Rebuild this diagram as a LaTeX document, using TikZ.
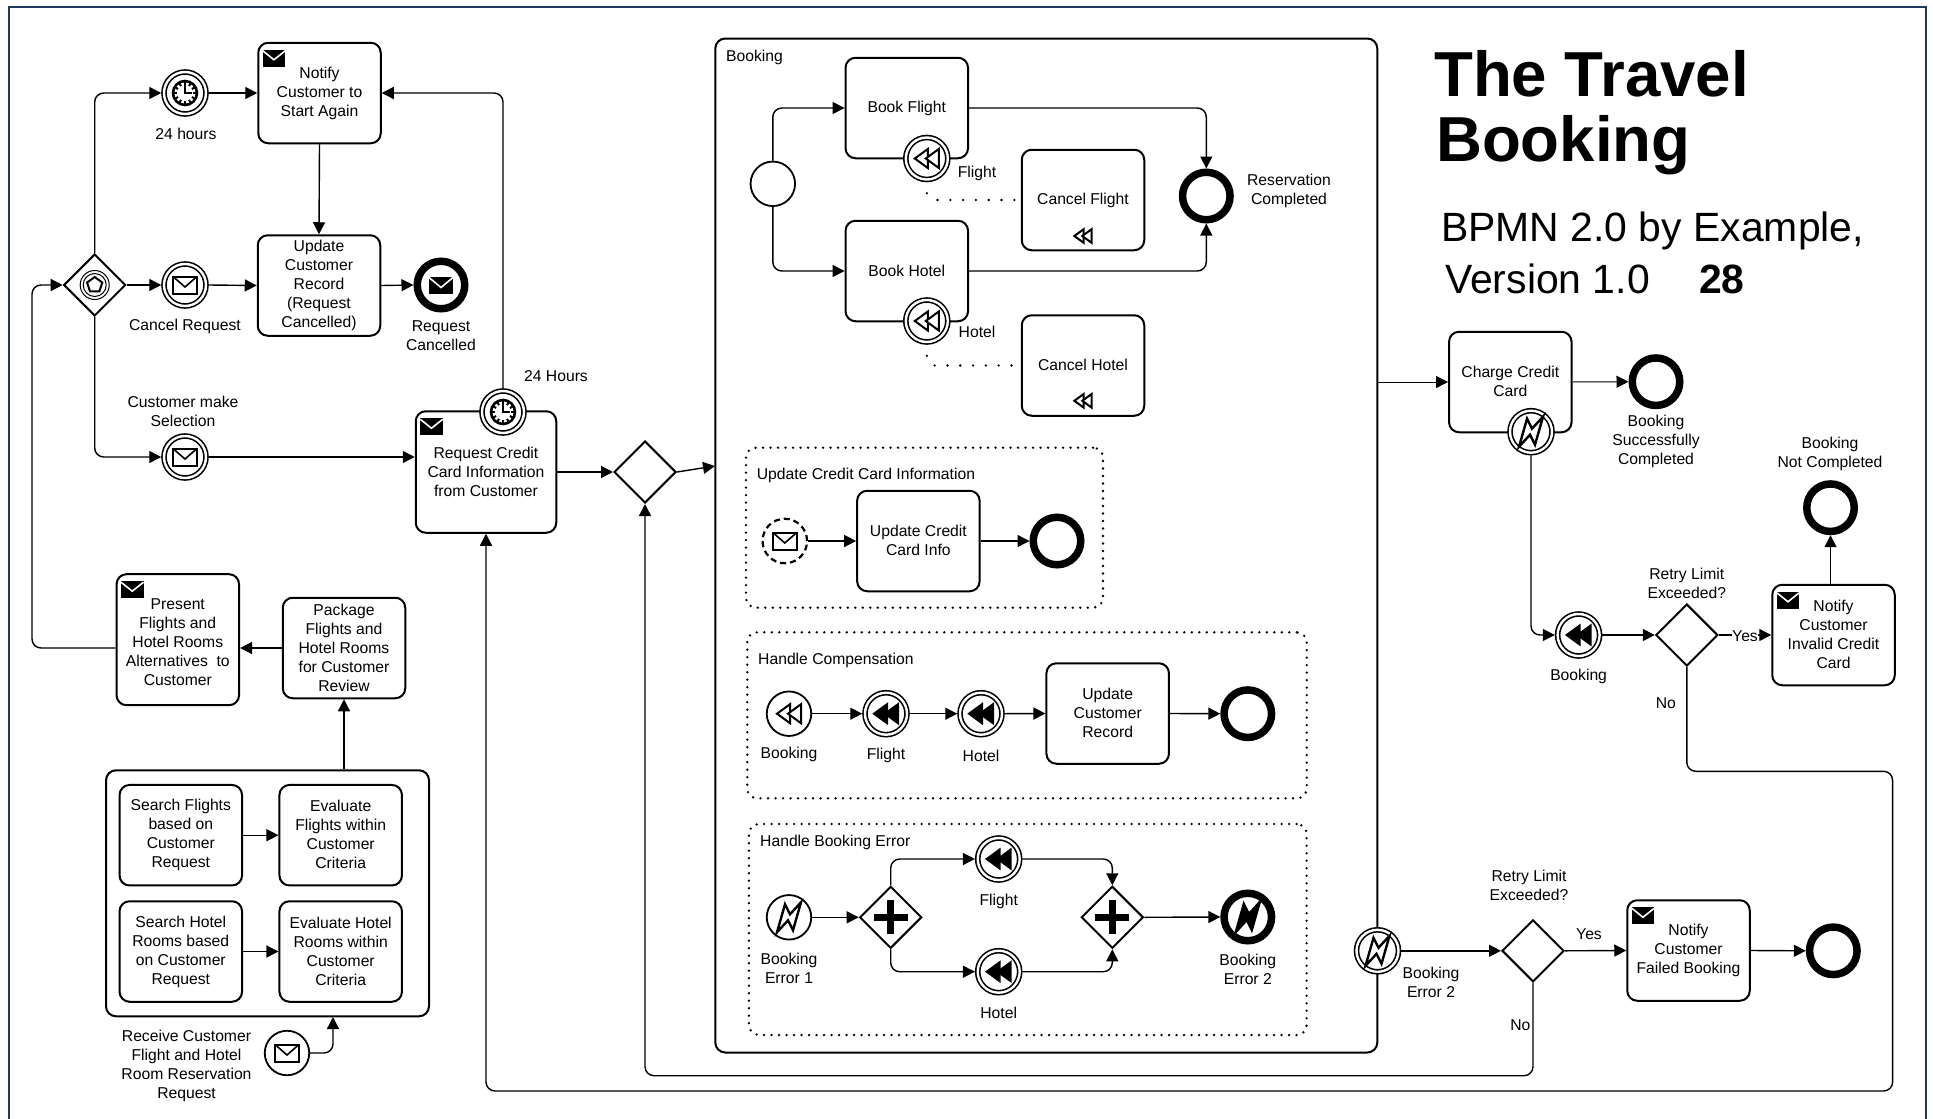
\documentclass[tikz,border=0pt]{standalone}
\usepackage{fontspec}
\setmainfont{Liberation Sans}
\usetikzlibrary{shapes.geometric,arrows.meta}

\definecolor{framecolor}{HTML}{1F3A5C}
\newcommand{\tasksize}{\fontsize{15.7}{19}\selectfont}

\tikzset{
  task/.style={draw, fill=white, rounded corners=10pt, line width=2pt, align=center, inner sep=0pt,
    minimum width=122.5pt, minimum height=100.5pt, font=\tasksize,
    execute at begin node=\rule{0pt}{11.4pt}, execute at end node=\rule[-1pt]{0pt}{1pt}},
  lbl/.style={align=center, inner sep=0pt, font=\tasksize, yshift=-1.5pt},
  gate/.style={diamond, aspect=1, draw, fill=white, line width=2pt, inner sep=0pt, minimum size=62pt},
  startev/.style={circle, draw, fill=white, line width=1.8pt, inner sep=0pt, minimum size=44.5pt},
  interev/.style={circle, draw, fill=white, double=white, line width=1.6pt, double distance=2.4pt,
    inner sep=0pt, minimum size=42pt, outer sep=2.75pt},
  endev/.style={circle, draw, fill=white, line width=7.5pt, inner sep=0pt, minimum size=47.5pt},
  dotbox/.style={draw, rounded corners=10pt, line width=2.6pt, line cap=round, dash pattern=on 0pt off 7.5pt,
    inner sep=0pt},
  flow/.style={-{Triangle[length=12pt,width=12pt]}, line width=1.4pt, rounded corners=9pt},
  assoc/.style={line width=2.6pt, line cap=round, dash pattern=on 0pt off 12.8pt}
}

% Task and event markers
\newcommand{\sendmark}[1]{
  \begin{scope}[shift={(#1.north west)}]
    \fill[black] (5.5,8) rectangle (28,25);
    \draw[white, line width=1.6pt] (5.5,9) -- (16.7,18) -- (28,9);
  \end{scope}
}
\newcommand{\openmail}[1]{
  \begin{scope}[shift={(#1.center)}]
    \draw[line width=2pt] (-12,-8.5) rectangle (12,8.5);
    \draw[line width=1.6pt] (-12,-8.5) -- (0,2) -- (12,-8.5);
  \end{scope}
}
\newcommand{\fullmail}[1]{
  \begin{scope}[shift={(#1.center)}]
    \fill[black] (-12,-8.5) rectangle (12,8.5);
    \draw[white, line width=1.6pt] (-12,-7.5) -- (0,2.5) -- (12,-7.5);
  \end{scope}
}
\newcommand{\clockmark}[1]{
  \begin{scope}[shift={(#1.center)}]
    \draw[line width=2.6pt] (0,0) circle (12);
    \foreach \ang in {0,30,...,330}
      \draw[line width=2pt] (\ang:8) -- (\ang:12);
    \draw[line width=2pt] (0,-8) -- (0,0) -- (6.5,0);
  \end{scope}
}
% #1 node, #2 scale, #3 fill colour
\newcommand{\rewindmark}[3]{
  \begin{scope}[shift={(#1.center)}, scale=#2]
    \draw[fill=#3, line width=2pt, line join=miter] (-12,0) -- (1,-9.5) -- (1,9.5) -- cycle;
    \draw[fill=#3, line width=2pt, line join=miter] (-1,0) -- (12,-9.5) -- (12,9.5) -- cycle;
  \end{scope}
}
\newcommand{\boltmark}[2]{
  \begin{scope}[shift={(#1.center)}]
    \draw[fill=#2, line width=2.4pt, line join=miter] (-12,15) -- (-4,-13) -- (1,-3) -- (12,-15) -- (4,13) -- (-1,3) -- cycle;
  \end{scope}
}
\newcommand{\plusmark}[1]{
  \begin{scope}[shift={(#1.center)}]
    \fill[black] (-17,-3.5) rectangle (17,3.5);
    \fill[black] (-3.5,-17) rectangle (3.5,17);
  \end{scope}
}

\begin{document}
\begin{tikzpicture}[x=1pt, y=-1pt]
  \useasboundingbox (0,0) rectangle (1933,1119);
  \clip (0,0) rectangle (1933,1119);
  \draw[framecolor, line width=2.5pt] (9,7) rectangle (1926,1130);

  % Title
  \node[anchor=base west, inner sep=0pt, font=\fontsize{63.6}{66}\selectfont\bfseries] (titleone) at (1434,96) {The Travel};
  \node[anchor=base west, inner sep=0pt, font=\fontsize{63.6}{66}\selectfont\bfseries] (titletwo) at (1436,161.7) {Booking};
  \node[anchor=base west, inner sep=0pt, font=\fontsize{40.9}{44}\selectfont] (subone) at (1441,241.7) {BPMN 2.0 by Example,};
  \node[anchor=base west, inner sep=0pt, font=\fontsize{40.9}{44}\selectfont] (subtwo) at (1445,293) {Version 1.0};
  \node[anchor=base west, inner sep=0pt, font=\fontsize{40.9}{44}\selectfont\bfseries] (pagenum) at (1699,293) {28};

  % Customer loop (upper left)
  \node[gate] (evgate) at (94.7,285) {};
  \draw[line width=1pt] (evgate) circle (14.5) (evgate) circle (11.5);
  \draw[line width=2pt, line join=miter] (evgate.center) ++(0,-8) -- ++(7.6,5.5) -- ++(-2.9,8.9) -- ++(-9.4,0) -- ++(-2.9,-8.9) -- cycle;

  \node[interev] (timerday) at (185,93) {};
  \clockmark{timerday}
  \node[lbl] (timerdaylbl) at (186,132.5) {24 hours};
  \node[interev] (cancelev) at (185,285) {};
  \openmail{cancelev}
  \node[lbl] (cancellbl) at (185,325) {Cancel Request};
  \node[interev] (selectev) at (185,457) {};
  \openmail{selectev}
  \node[lbl] (selectlbl) at (183,409.5) {Customer make\\Selection};

  \node[task] (notifyagain) at (319.5,93) {Notify\\Customer to\\Start Again};
  \sendmark{notifyagain}
  \node[task] (updaterec) at (319,285.5) {Update\\Customer\\Record\\(Request\\Cancelled)};
  \node[endev] (endcancel) at (441,285) {};
  \fullmail{endcancel}
  \node[lbl] (endcancellbl) at (441,334.5) {Request\\Cancelled};

  \node[task, minimum width=140.5pt, minimum height=121.5pt] (request) at (486,472) {Request Credit\\Card Information\\from Customer};
  \sendmark{request}
  \node[interev] (timerreq) at (503,412) {};
  \clockmark{timerreq}
  \node[lbl] (timerreqlbl) at (556,375) {24 Hours};
  \node[gate] (gwmain) at (645,472) {};

  \draw[flow] (evgate.north) |- (timerday.west);
  \draw[flow] (timerday.east) -- (notifyagain.west);
  \draw[flow] (evgate.east) -- (cancelev.west);
  \draw[flow] (cancelev.east) -- (updaterec.west);
  \draw[flow] (updaterec.east) -- (endcancel.west);
  \draw[flow] (notifyagain.south) -- (updaterec.north);
  \draw[flow] (evgate.south) |- (selectev.west);
  \draw[flow] (selectev.east) -- (selectev.east -| request.west);
  \draw[flow] (timerreq.north) |- (notifyagain.east);
  \draw[flow] (request.east) -- (gwmain.west);

  % Search tasks (lower left)
  \node[task, minimum width=323pt, minimum height=246pt] (searchgroup) at (267.5,893.3) {};
  \node[task] (searchfl) at (180.8,835.2) {Search Flights\\based on\\Customer\\Request};
  \node[task] (evalfl) at (340.7,835.2) {Evaluate\\Flights within\\Customer\\Criteria};
  \node[task] (searchho) at (180.8,951.5) {Search Hotel\\Rooms based\\on Customer\\Request};
  \node[task] (evalho) at (340.7,951.5) {Evaluate Hotel\\Rooms within\\Customer\\Criteria};
  \node[task] (package) at (344,648) {Package\\Flights and\\Hotel Rooms\\for Customer\\Review};
  \node[task, minimum height=131pt] (present) at (177.8,639.7) {\rule{0pt}{17.4pt}Present\\Flights and\\Hotel Rooms\\Alternatives~ to\\Customer};
  \sendmark{present}
  \node[startev] (receive) at (287,1053) {};
  \openmail{receive}
  \node[lbl] (receivelbl) at (186.5,1064.5) {Receive Customer\\Flight and Hotel\\Room Reservation\\Request};
  \coordinate (evgateleft) at (32,285);

  \draw[flow] (searchfl.east) -- (evalfl.west);
  \draw[flow] (searchho.east) -- (evalho.west);
  \draw[flow] (package.south |- searchgroup.north) -- (package.south);
  \draw[flow] (package.west) -- (package.west -| present.east);
  \draw[flow] (package.west -| present.west) -| (evgateleft) -- (evgate.west);
  \draw[flow] (receive.east) -| (333,1017);

  % Booking subprocess
  \node[task, minimum width=662pt, minimum height=1014pt] (booking) at (1046.3,545.5) {};
  \node[lbl, anchor=west] (bookinglbl) at (726,56) {Booking};
  \node[startev] (bookstart) at (772.8,183.8) {};
  \node[task] (bookfl) at (906.8,108) {Book Flight};
  \node[task] (bookho) at (906.8,271) {Book Hotel};
  \node[task] (cancelfl) at (1083,200) {Cancel Flight};
  \node[task] (cancelho) at (1083,365.5) {Cancel Hotel};
  \coordinate (rewfl) at (1083,236);
  \coordinate (rewho) at (1083,400.8);
  \rewindmark{rewfl}{0.72}{white}
  \rewindmark{rewho}{0.72}{white}
  \node[interev] (compfl) at (926.8,158.5) {};
  \rewindmark{compfl}{1}{white}
  \node[lbl] (compfllbl) at (977,172) {Flight};
  \node[interev] (compho) at (926.8,321) {};
  \rewindmark{compho}{1}{white}
  \node[lbl] (comphololbl) at (977,330.5) {Hotel};
  \node[endev] (endres) at (1206.3,196) {};
  \node[lbl] (endreslbl) at (1289,189) {Reservation\\Completed};

  \draw[flow] (bookstart.north) |- (bookfl.west);
  \draw[flow] (bookstart.south) |- (bookho.west);
  \draw[flow] (bookfl.east) -| (endres.north);
  \draw[flow] (bookho.east) -| (endres.south);
  \draw[assoc] (compfl.south) ++(0,11) -- (936.6,200) -- (cancelfl.west);
  \draw[assoc] (compho.south) ++(0,11) -- (934,365.5) -- (cancelho.west);

  % Update Credit Card Information
  \node[dotbox, minimum width=357pt, minimum height=160pt] (updbox) at (924.5,527.7) {};
  \node[lbl, anchor=west] (updboxlbl) at (756.7,474) {Update Credit Card Information};
  \node[startev, line width=2.2pt, dash pattern=on 6pt off 4pt] (updstart) at (784.8,541) {};
  \openmail{updstart}
  \node[task] (updcard) at (918.4,541) {Update Credit\\Card Info};
  \node[endev] (updend) at (1057,541) {};
  \draw[flow] (updstart.east) -- (updcard.west);
  \draw[flow] (updcard.east) -- (updend.west);

  % Handle Compensation
  \node[dotbox, minimum width=559.5pt, minimum height=166pt] (compbox) at (1027,715.3) {};
  \node[lbl, anchor=west] (compboxlbl) at (758,658.7) {Handle Compensation};
  \node[startev] (hcbook) at (789,713.7) {};
  \rewindmark{hcbook}{1}{white}
  \node[lbl] (hcbooklbl) at (789,752.7) {Booking};
  \node[interev] (hcfl) at (886,713.7) {};
  \rewindmark{hcfl}{1}{black}
  \node[lbl] (hcfllbl) at (886,754) {Flight};
  \node[interev] (hcho) at (981,713.7) {};
  \rewindmark{hcho}{1}{black}
  \node[lbl] (hchololbl) at (981,754) {Hotel};
  \node[task] (hcupd) at (1107.7,713.5) {Update\\Customer\\Record};
  \node[endev] (hcend) at (1247.8,713.7) {};
  \draw[flow] (hcbook.east) -- (hcfl.west);
  \draw[flow] (hcfl.east) -- (hcho.west);
  \draw[flow] (hcho.east) -- (hcupd.west);
  \draw[flow] (hcupd.east) -- (hcend.west);

  % Handle Booking Error
  \node[dotbox, minimum width=557.7pt, minimum height=211pt] (errbox) at (1027.8,929.5) {};
  \node[lbl, anchor=west] (errboxlbl) at (760,841) {Handle Booking Error};
  \node[startev] (errstart) at (789,917.3) {};
  \boltmark{errstart}{white}
  \node[lbl] (errstartlbl) at (789,966.5) {Booking\\Error 1};
  \node[gate] (parone) at (890.7,917.3) {};
  \plusmark{parone}
  \node[interev] (errfl) at (998.7,859) {};
  \rewindmark{errfl}{1}{black}
  \node[lbl] (errfllbl) at (998.7,900) {Flight};
  \node[interev] (errho) at (998.7,971.7) {};
  \rewindmark{errho}{1}{black}
  \node[lbl] (errhololbl) at (998.7,1011.7) {Hotel};
  \node[gate] (partwo) at (1112.3,917.3) {};
  \plusmark{partwo}
  \node[endev] (errend) at (1247.8,917) {};
  \boltmark{errend}{black}
  \node[lbl] (errendlbl) at (1247.8,967.5) {Booking\\Error 2};
  \draw[flow] (errstart.east) -- (parone.west);
  \draw[flow] (parone.north) |- (errfl.west);
  \draw[flow] (parone.south) |- (errho.west);
  \draw[flow] (errfl.east) -| (partwo.north);
  \draw[flow] (errho.east) -| (partwo.south);
  \draw[flow] (partwo.east) -- (errend.west);

  % Charge and retry (right side)
  \coordinate (bookingin) at (715,466);
  \draw[flow] (gwmain.east) -- (bookingin);
  \node[task] (charge) at (1510.3,382) {Charge Credit\\Card};
  \draw[flow, line width=1pt] (charge.west -| booking.east) -- (charge.west);
  \node[interev] (chargeerr) at (1531,431.7) {};
  \boltmark{chargeerr}{white}
  \node[endev] (endok) at (1656,381.7) {};
  \node[lbl] (endoklbl) at (1656,440.3) {Booking\\Successfully\\Completed};
  \node[interev] (rollback) at (1578.6,635) {};
  \rewindmark{rollback}{1}{black}
  \node[lbl] (rollbacklbl) at (1578.6,675) {Booking};
  \node[gate] (retryone) at (1686.8,635) {};
  \node[lbl] (retryonelbl) at (1686.8,582) {Retry Limit\\Exceeded?};
  \node[task] (notifyinv) at (1833.5,635) {Notify\\Customer\\Invalid Credit\\Card};
  \sendmark{notifyinv}
  \node[endev] (endnot) at (1830.5,507.7) {};
  \node[lbl] (endnotlbl) at (1830,452.5) {Booking\\Not Completed};
  \draw[flow, line width=1pt] (charge.east) -- (endok.west);
  \draw[flow] (chargeerr.south) |- (rollback.west);
  \draw[flow] (rollback.east) -- (retryone.west);
  \draw[flow] (retryone.east) -- (notifyinv.west);
  \draw[flow] (endnot |- notifyinv.north) -- (endnot.south);
  \node[lbl, fill=white] (yesone) at (1745,634.6) {Yes};
  \node[lbl] (noone) at (1665.8,701.4) {No};

  \node[interev] (bookerr) at (1377.5,950.8) {};
  \boltmark{bookerr}{white}
  \node[lbl] (bookerrlbl) at (1431,981) {Booking\\Error 2};
  \node[gate] (retrytwo) at (1533,950.8) {};
  \node[lbl] (retrytwolbl) at (1529,883.5) {Retry Limit\\Exceeded?};
  \node[task] (notifyfail) at (1688.5,950.5) {Notify\\Customer\\Failed Booking};
  \sendmark{notifyfail}
  \node[endev] (endfail) at (1833.3,950.8) {};
  \draw[flow] (bookerr.east) -- (retrytwo.west);
  \draw[flow] (retrytwo.east) -- (notifyfail.west);
  \draw[flow] (notifyfail.east) -- (endfail.west);
  \node[lbl] (yestwo) at (1589,932.4) {Yes};
  \node[lbl] (notwo) at (1520.4,1023.7) {No};

  % Return lines along the bottom
  \coordinate (lowturn) at (645,1075.7);
  \coordinate (farturn) at (1892.6,771.3);
  \coordinate (farfoot) at (1892.6,1091);
  \coordinate (farleft) at (486,1091);
  \draw[flow] (retrytwo.south) |- (lowturn) -- (gwmain.south);
  \draw[flow] (retryone.south) |- (farturn) -- (farfoot) -- (farleft) -- (request.south);
\end{tikzpicture}
\end{document}
